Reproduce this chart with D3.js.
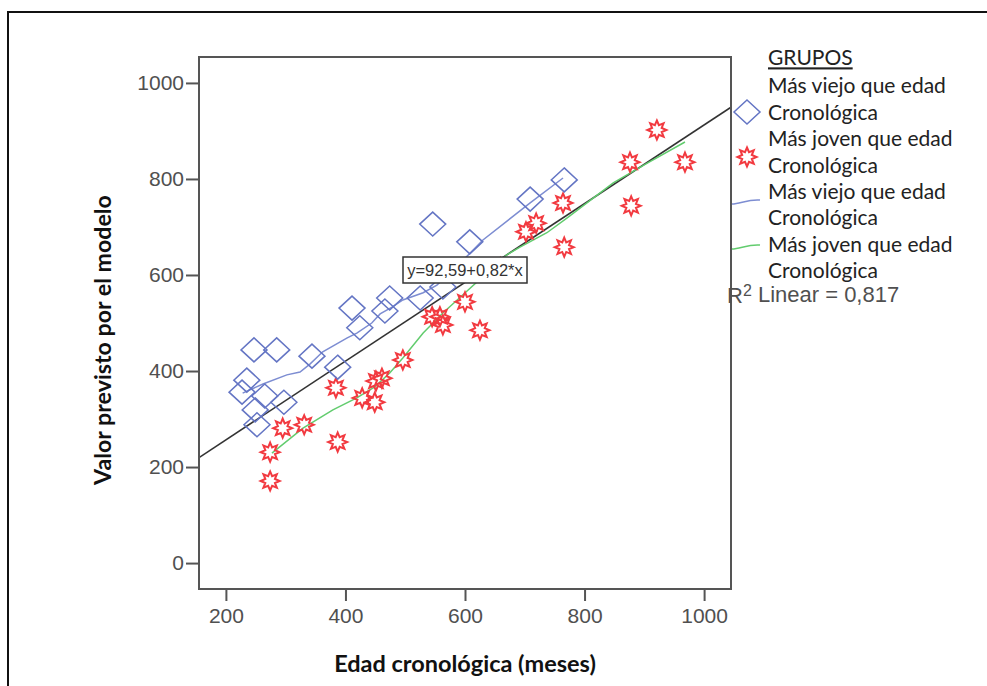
<!DOCTYPE html>
<html lang="es">
<head>
<meta charset="utf-8">
<title>Valor previsto por el modelo</title>
<style>
  html, body { margin: 0; padding: 0; background: #fff; }
  svg { display: block; }
</style>
</head>
<body>
<svg id="chart"></svg>
<script src="https://cdn.jsdelivr.net/npm/d3@7/dist/d3.min.js"></script>
<script>
// values
const olderX = [546, 608, 709, 766, 563, 525, 474, 466, 411, 424, 344, 387, 247, 285, 235, 227, 265, 297, 249, 252]
const olderY = [706, 669, 758, 798, 575, 552, 552, 525, 531, 490, 431, 408, 444, 444, 381, 356, 348, 335, 319, 288]

const youngerX = [274, 274, 295, 331, 387, 384, 428, 449, 451, 461, 496, 545, 558, 563, 600, 625, 702, 719, 764, 766, 876, 878, 921, 968, 659]
const youngerY = [171, 231, 281, 288, 252, 365, 344, 335, 379, 385, 423, 513, 513, 496, 544, 485, 690, 708, 750, 658, 835, 744, 902, 835, 615]

// loess curves per group
const olderFitX = [228, 262, 302, 324, 341, 362, 403, 419, 444, 458, 478, 496, 530, 553, 597, 630, 709, 764]
const olderFitY = [354, 373, 392, 398, 415, 440, 469, 479, 500, 519, 533, 548, 563, 579, 631, 673, 750, 802]

const youngerFitX = [277, 329, 379, 419, 449, 474, 496, 530, 563, 603, 640, 670, 692, 737, 771, 848, 905, 968]
const youngerFitY = [229, 281, 319, 344, 367, 396, 427, 479, 521, 566, 608, 642, 658, 688, 719, 792, 833, 877]

// total linear fit
const intercept = 92.59
const slope = 0.82
const rSquared = "0,817"

const xTicks = [200, 400, 600, 800, 1000]
const yTicks = [0, 200, 400, 600, 800, 1000]

const legendTitle = "GRUPOS"
const legendLabels = [
    "Más viejo que edad", "Cronológica",
    "Más joven que edad", "Cronológica",
    "Más viejo que edad", "Cronológica",
    "Más joven que edad", "Cronológica"
]

const width = 987
const height = 686
const plot = {left: 199, right: 731, top: 57, bottom: 589}

const blue = "#6475c4"
const blueLine = "#7d8dd2"
const green = "#62cc6e"
const red = "#f23a40"
const axisColor = "#555"
const sans = "'Liberation Sans', Arial, sans-serif"
const label = "Lato, 'Open Sans', sans-serif"

const svg = d3.select("#chart")
    .attr("width", width)
    .attr("height", height)
    .attr("viewBox", [0, 0, width, height])

const x = d3.scaleLinear().domain([155, 1045]).range([plot.left, plot.right])
const y = d3.scaleLinear().domain([-54, 1054]).range([plot.bottom, plot.top])

const diamond = "M0,-12L13,0L0,12L-13,0Z"
const star = d3.lineRadial()
    .angle((d, i) => i * Math.PI / 8)
    .radius((d, i) => i % 2 ? 5.2 : 9.5)
    .curve(d3.curveLinearClosed)(d3.range(16))

// outer frame
svg.append("path")
    .attr("d", `M8,${height + 5}V12H${width + 5}`)
    .attr("fill", "none")
    .attr("stroke", "#111")
    .attr("stroke-width", 2)

svg.append("clipPath").attr("id", "clip")
    .append("rect")
    .attr("x", plot.left).attr("y", plot.top)
    .attr("width", plot.right - plot.left).attr("height", plot.bottom - plot.top)

// axes
const xAxis = g => g
    .attr("transform", `translate(0,${plot.bottom})`)
    .call(d3.axisBottom(x).tickValues(xTicks).tickFormat(d3.format("d")).tickSize(12).tickPadding(7).tickSizeOuter(0))
    .call(g => g.select(".domain").remove())

const yAxis = g => g
    .attr("transform", `translate(${plot.left},0)`)
    .call(d3.axisLeft(y).tickValues(yTicks).tickFormat(d3.format("d")).tickSize(13).tickPadding(2).tickSizeOuter(0))
    .call(g => g.select(".domain").remove())

for (const axis of [xAxis, yAxis]) {
    svg.append("g")
        .call(axis)
        .call(g => g.selectAll(".tick line").attr("stroke", axisColor).attr("stroke-width", 2))
        .call(g => g.selectAll(".tick text")
            .attr("fill", "#505050")
            .attr("font-family", sans)
            .attr("font-size", 21))
}

const inner = svg.append("g").attr("clip-path", "url(#clip)")

// regression line over the whole x range
inner.append("line")
    .attr("x1", x(x.domain()[0])).attr("y1", y(intercept + slope * x.domain()[0]))
    .attr("x2", x(x.domain()[1])).attr("y2", y(intercept + slope * x.domain()[1]))
    .attr("stroke", "#333")
    .attr("stroke-width", 1.6)

const line = d3.line()
    .x(d => x(d[0]))
    .y(d => y(d[1]))

inner.append("path")
    .datum(d3.zip(olderFitX, olderFitY))
    .attr("d", line)
    .attr("fill", "none")
    .attr("stroke", blueLine)
    .attr("stroke-width", 1.5)

inner.append("path")
    .datum(d3.zip(youngerFitX, youngerFitY))
    .attr("d", line)
    .attr("fill", "none")
    .attr("stroke", green)
    .attr("stroke-width", 1.5)

inner.append("g")
    .selectAll("path")
    .data(d3.zip(youngerX, youngerY))
    .join("path")
    .attr("transform", d => `translate(${x(d[0])},${y(d[1])})`)
    .attr("d", star)
    .attr("fill", "none")
    .attr("stroke", red)
    .attr("stroke-width", 2)

inner.append("g")
    .selectAll("path")
    .data(d3.zip(olderX, olderY))
    .join("path")
    .attr("transform", d => `translate(${x(d[0])},${y(d[1])})`)
    .attr("d", diamond)
    .attr("fill", "none")
    .attr("stroke", blue)
    .attr("stroke-width", 1.5)

// plot frame
svg.append("rect")
    .attr("x", plot.left).attr("y", plot.top)
    .attr("width", plot.right - plot.left).attr("height", plot.bottom - plot.top)
    .attr("fill", "none")
    .attr("stroke", axisColor)
    .attr("stroke-width", 2)

// equation label
const eq = svg.append("g").attr("transform", "translate(403,257)")
eq.append("rect")
    .attr("width", 124).attr("height", 26)
    .attr("fill", "#fff")
    .attr("stroke", "#333")
    .attr("stroke-width", 1.5)
eq.append("text")
    .attr("x", 62).attr("y", 13).attr("dy", "0.35em")
    .attr("text-anchor", "middle")
    .attr("font-family", sans)
    .attr("font-size", 16.5)
    .attr("fill", "#333")
    .text(`y=${String(intercept).replace(".", ",")}+${String(slope).replace(".", ",")}*x`)

// axis titles
svg.append("text")
    .attr("x", 465).attr("y", 664).attr("dy", "0.35em")
    .attr("text-anchor", "middle")
    .attr("font-family", label)
    .attr("font-weight", "bold")
    .attr("font-size", 23.5)
    .attr("fill", "#111")
    .text("Edad cronológica (meses)")

svg.append("text")
    .attr("transform", "translate(103,340) rotate(-90)")
    .attr("dy", "0.35em")
    .attr("text-anchor", "middle")
    .attr("font-family", label)
    .attr("font-weight", "bold")
    .attr("font-size", 23.2)
    .attr("fill", "#111")
    .text("Valor previsto por el modelo")

// legend
const legend = svg.append("g")
    .attr("font-family", label)
    .attr("font-size", 21)
    .attr("fill", "#222")

legend.append("text")
    .attr("x", 768).attr("y", 58).attr("dy", "0.35em")
    .attr("text-decoration", "underline")
    .text(legendTitle)

legend.selectAll(".item")
    .data(legendLabels)
    .join("text")
    .attr("class", "item")
    .attr("x", 768)
    .attr("y", (d, i) => 86 + i * 26.4)
    .attr("dy", "0.35em")
    .text(d => d)

legend.append("path")
    .attr("transform", "translate(747,112)")
    .attr("d", diamond)
    .attr("fill", "none")
    .attr("stroke", blue)
    .attr("stroke-width", 1.5)

legend.append("path")
    .attr("transform", "translate(747,157)")
    .attr("d", star)
    .attr("fill", "none")
    .attr("stroke", red)
    .attr("stroke-width", 2)

legend.append("path")
    .attr("d", "M732,204C740,204 748,199 760,200")
    .attr("fill", "none")
    .attr("stroke", blueLine)
    .attr("stroke-width", 1.5)

legend.append("path")
    .attr("d", "M732,249C740,249 748,244 760,245")
    .attr("fill", "none")
    .attr("stroke", green)
    .attr("stroke-width", 1.5)

const r2 = svg.append("text")
    .attr("x", 727).attr("y", 295).attr("dy", "0.35em")
    .attr("font-family", sans)
    .attr("font-size", 22)
    .attr("fill", "#505050")
r2.append("tspan").text("R")
r2.append("tspan").attr("font-size", 16).attr("dy", "-0.45em").text("2")
r2.append("tspan").attr("dy", "0.3em").text(` Linear = ${rSquared}`)
</script>
</body>
</html>
